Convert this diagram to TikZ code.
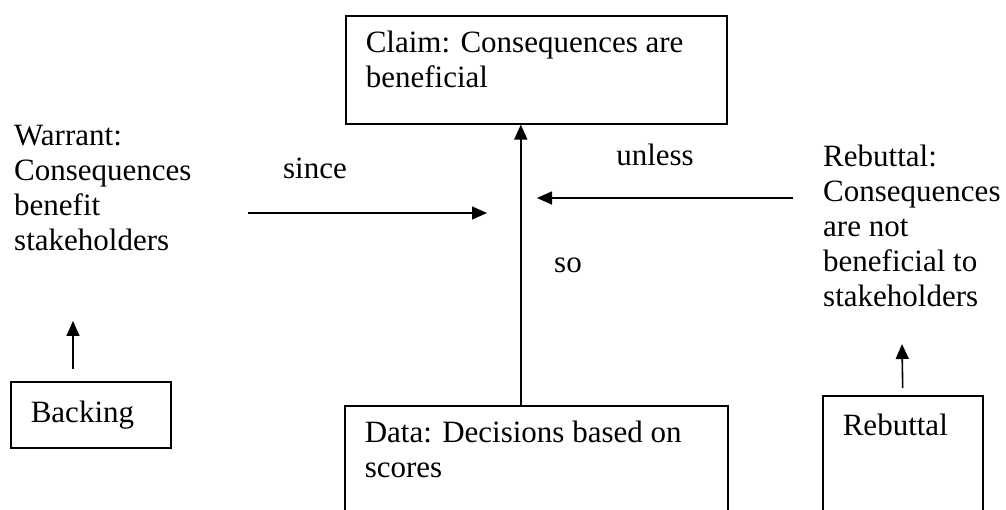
\documentclass[tikz,border=0pt]{standalone}
\usepackage{fontspec}
\setmainfont{Liberation Serif}
\usetikzlibrary{positioning, arrows.meta}

\tikzset{
  box/.style={draw, line width=1.6pt, anchor=north west, inner xsep=20pt, inner ysep=12pt},
  note/.style={anchor=north west, align=left, inner sep=0pt},
  link/.style={-{Triangle[length=15pt, width=13pt]}, line width=1.6pt},
}

\begin{document}
\begin{tikzpicture}[x=1pt, y=-1pt, font=\fontsize{31}{35}\selectfont]
    \useasboundingbox (0,0) rectangle (1006,510);
    \clip (0,0) rectangle (1006,510);
    % boxes
    \node[box] (claim) at (345,15) {\parbox[t][84pt][t]{341pt}{\strut Claim: Consequences are\\beneficial}};
    \node[box] (data) at (344,405) {\parbox[t][84pt][t]{343pt}{\strut Data: Decisions based on\\scores}};
    \node[box, inner ysep=16pt] (backing) at (10,381) {\parbox[t][34pt][t]{120pt}{\strut Backing}};
    \node[box, inner ysep=15pt] (rebbox) at (822,395) {\parbox[t][100pt][t]{120pt}{\strut Rebuttal}};
    % free texts
    \node[note] (warrant) at (14,125) {Warrant:\\Consequences\\benefit\\stakeholders};
    \node[note] (rebuttal) at (823,145) {Rebuttal:\\Consequences\\are not\\beneficial to\\stakeholders};
    \node (since) at (315,168) {since};
    \node (unless) at (655,155) {unless};
    \node (so) at (568,265) {so};
    % arrow ends
    \coordinate (sinceS) at (248,213);
    \coordinate (sinceE) at (487,213);
    \coordinate (unlessS) at (793,198);
    \coordinate (unlessE) at (537,198);
    \coordinate (backtip) at (73,321);
    \coordinate (rebtip) at (902,344);
    \draw[link] ([xshift=-15.5pt]data.north) -- ([xshift=-15.5pt]claim.south);
    \draw[link] (sinceS) -- (sinceE);
    \draw[link] (unlessS) -- (unlessE);
    \draw[link, shorten <=12pt] (backtip |- backing.north) -- (backtip);
    \draw[link, shorten <=7pt] (rebbox.north) -- (rebtip);
\end{tikzpicture}
\end{document}
